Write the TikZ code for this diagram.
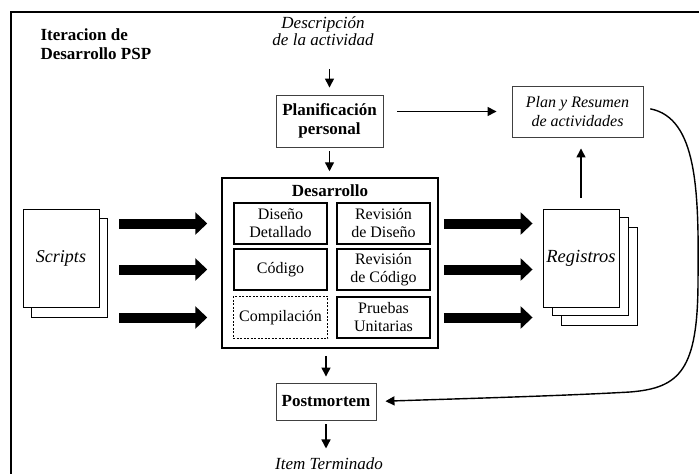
\documentclass[tikz,border=0pt]{standalone}
\usepackage{fontspec}
\setmainfont{Liberation Serif}
\usetikzlibrary{arrows.meta}

\begin{document}
\begin{tikzpicture}[x=1pt,y=-1pt,
	font=\fontsize{16}{18}\selectfont,
	box/.style={draw=black!75,line width=0.9pt,align=center,inner sep=0pt},
	task/.style={draw,line width=1.3pt,align=center,inner sep=0pt,minimum width=93pt,minimum height=41pt},
	page/.style={draw,line width=0.9pt,fill=white,inner sep=0pt,minimum width=76pt,minimum height=98pt},
	arr/.style={line width=1.4pt,-{Triangle[length=9pt,width=9pt]}},
	fat/.style={line width=10pt,-{Triangle[length=12pt,width=22pt]}}]
	\useasboundingbox (0,0) rectangle (699,474);
	\draw[line width=2pt] (11,474) -- (11,12) -- (699,12);
	\node[align=left,anchor=west,font=\fontsize{17}{19}\selectfont\bfseries] (title) at (37,44) {Iteracion de\\Desarrollo PSP};
	\node[align=center,font=\fontsize{17}{17}\selectfont\itshape] (desc) at (323,31) {Descripción\\de la actividad};
	\node[box,minimum width=107pt,minimum height=52pt,font=\fontsize{17}{19}\selectfont\bfseries] (plan) at (329.5,121) {Planificación\\personal};
	\node[box,minimum width=131pt,minimum height=51pt,font=\fontsize{16}{19}\selectfont\itshape] (resumen) at (577.5,111.5) {Plan y Resumen\\de actividades};
	% desarrollo
	\node[draw,line width=1.5pt,minimum width=216pt,minimum height=170pt] (dev) at (330,263) {};
	\node[font=\fontsize{17}{18}\selectfont\bfseries] (devtitle) at (330,191) {Desarrollo};
	\node[task] (d1) at (280.5,223.5) {Diseño\\Detallado};
	\node[task] (d2) at (383.5,223.5) {Revisión\\de Diseño};
	\node[task] (d3) at (280.5,269.5) {Código};
	\node[task] (d4) at (383.5,269.5) {Revisión\\de Código};
	\node[task,draw=none] (d5) at (280.5,317.5) {Compilación};
	\draw[line width=1.3pt,dash pattern=on 2pt off 1.5pt] (d5.north west) rectangle (d5.south east);
	\node[task] (d6) at (383.5,317.5) {Pruebas\\Unitarias};
	% scripts y registros
	\draw[line width=0.9pt,fill=white] (31,218) rectangle (107,317);
	\node[page,font=\fontsize{18}{18}\selectfont\itshape] (scripts) at (61,258) {Scripts};
	\draw[line width=0.9pt,fill=white] (561,227) rectangle (637,325);
	\draw[line width=0.9pt,fill=white] (552,217) rectangle (628,315);
	\node[page,font=\fontsize{18.5}{18}\selectfont\itshape] (reg) at (581,258) {Registros};
	\node[box,minimum width=100pt,minimum height=37pt,font=\fontsize{17}{18}\selectfont\bfseries] (post) at (326,401.5) {Postmortem};
	\node[font=\fontsize{17}{17}\selectfont\itshape] (item) at (329,464) {Item Terminado};
	% flechas
	\draw[arr,shorten <=20pt,shorten >=7pt] (desc.south -| plan.north) -- (plan.north);
	\draw[arr,shorten <=4pt,shorten >=6pt] (plan.south) -- (plan.south |- dev.north);
	\draw[arr,shorten <=14pt,shorten >=15pt] (plan.east |- resumen.west) -- (resumen.west);
	\draw[arr,shorten <=11pt,shorten >=11pt] (reg.north) -- (resumen.south -| reg.north);
	\draw[arr,shorten <=7pt,shorten >=6pt] (dev.south -| post.north) -- (post.north);
	\draw[arr,shorten <=4pt,shorten >=6pt] (post.south) -- (post.south |- item.north);
	\foreach \t in {d1,d3,d5}
		\draw[fat,shorten <=20pt,shorten >=14pt] (scripts.east |- \t.west) -- (dev.west |- \t.west);
	\foreach \t in {d2,d4,d6}
		\draw[fat,shorten <=5pt,shorten >=10pt] (dev.east |- \t.east) -- (reg.west |- \t.east);
	\draw[arr,shorten <=7pt,shorten >=9pt] ([yshift=4pt]resumen.east) .. controls (697,118) and (699,190) .. (698,280)
		.. controls (698,370) and (680,388) .. (630,392) .. controls (560,396) and (450,399) .. (post.east);
\end{tikzpicture}
\end{document}
